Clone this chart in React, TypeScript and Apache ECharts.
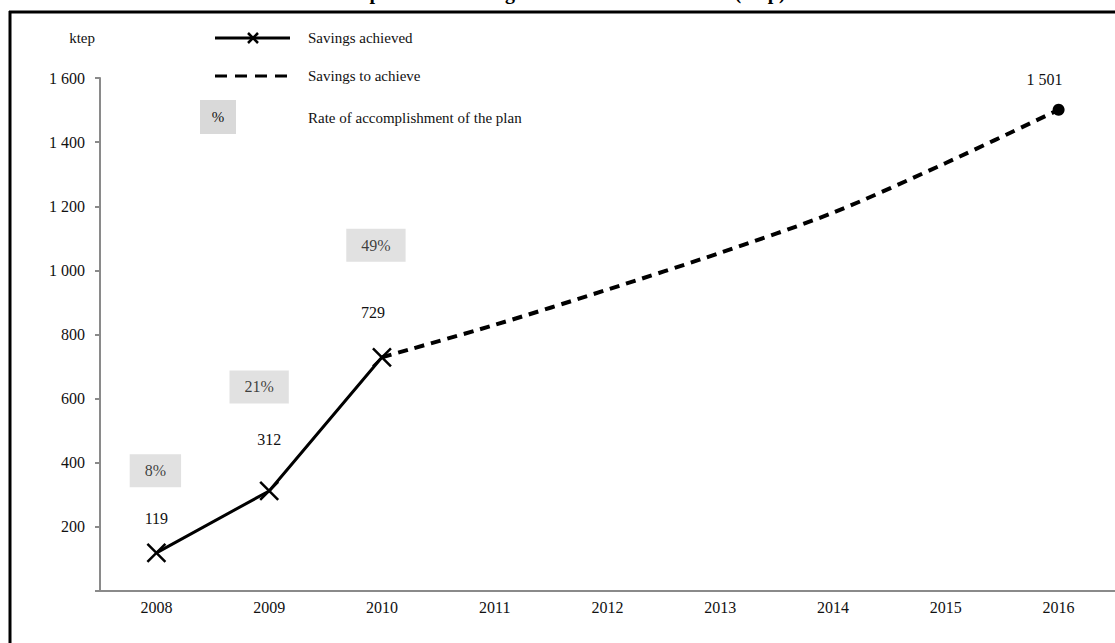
import React, { useEffect, useRef } from "react";
import * as echarts from "echarts";

const years = ["2008", "2009", "2010", "2011", "2012", "2013", "2014", "2015", "2016"];
const achieved = [119, 312, 729, null, null, null, null, null, null];
const toAchieve = [null, null, 729, 830, 940, 1055, 1180, 1335, 1501];
const rates = ["8%", "21%", "49%"];
const yTicks = [0, 1600, 200]; // min, max, interval

const FONT = '"Liberation Serif", "Times New Roman", serif';

// label placement (styling, not data)
const valueLabelOffsets = [[0, -34], [0, -51], [-9, -45]];
const rateLabelOffsets = [[-1, -82], [-10, -104], [-6, -112]];

const fmt = (v: number) =>
  v >= 1000 ? `${Math.floor(v / 1000)} ${String(v % 1000).padStart(3, "0")}` : String(v);

const CROSS = "path://M0 0L20 20M20 0L0 20";

export default function App() {
  const ref = useRef<HTMLDivElement>(null);
  useEffect(() => {
    if (!ref.current) return;
    const chart = echarts.init(ref.current, null, { renderer: "svg" });
    const option: any = {
      animation: false,
      backgroundColor: "#ffffff",
      grid: { left: 100, width: 1028, top: 78, bottom: 52 },
      xAxis: {
        type: "category",
        data: years,
        boundaryGap: true,
        axisLine: { lineStyle: { color: "#8a8a8a", width: 2 } },
        axisTick: { alignWithLabel: true, length: 4, lineStyle: { color: "#666", width: 2 } },
        axisLabel: { color: "#111", fontFamily: FONT, fontSize: 16, margin: 8 },
        splitLine: { show: false },
      },
      yAxis: {
        type: "value",
        min: yTicks[0],
        max: yTicks[1],
        interval: yTicks[2],
        name: "ktep",
        nameLocation: "end",
        nameGap: 40,
        nameTextStyle: {
          color: "#111",
          fontFamily: FONT,
          fontSize: 15,
          align: "right",
          verticalAlign: "middle",
          padding: [0, 5, 0, 0],
        },
        axisLine: { show: true, lineStyle: { color: "#8a8a8a", width: 2 } },
        axisTick: { show: true, length: 5, lineStyle: { color: "#8a8a8a", width: 2 } },
        axisLabel: {
          color: "#111",
          fontFamily: FONT,
          fontSize: 16,
          margin: 15,
          formatter: (v: number) => (v === 0 ? "" : fmt(v)),
        },
        splitLine: { show: false },
      },
      series: [
        {
          name: "Savings to achieve",
          type: "line",
          data: toAchieve.map((v, i) =>
            i === toAchieve.length - 1
              ? {
                  value: v,
                  symbol: "circle",
                  symbolSize: 12,
                  label: {
                    show: true,
                    position: "inside",
                    offset: [-14, -30],
                    formatter: (p: any) => fmt(p.value),
                    color: "#111",
                    fontFamily: FONT,
                    fontSize: 16,
                  },
                }
              : { value: v, symbol: "none" }
          ),
          smooth: 0.3,
          connectNulls: false,
          lineStyle: { color: "#000", width: 4, type: [10, 7] },
          itemStyle: { color: "#000" },
          z: 2,
        },
        {
          name: "Savings achieved",
          type: "line",
          data: achieved.map((v, i) =>
            v == null
              ? v
              : {
                  value: v,
                  label: {
                    show: true,
                    position: "inside",
                    offset: valueLabelOffsets[i],
                    formatter: (p: any) => fmt(p.value),
                    color: "#111",
                    fontFamily: FONT,
                    fontSize: 16,
                  },
                }
          ),
          symbol: CROSS,
          symbolSize: 18,
          showAllSymbol: true,
          lineStyle: { color: "#000", width: 3 },
          itemStyle: { color: "#000", borderColor: "#000", borderWidth: 2.5 },
          z: 3,
        },
        {
          name: "Rate of accomplishment of the plan",
          type: "scatter",
          symbolSize: 0,
          data: rates.map((r, i) => ({
            value: [years[i], achieved[i]],
            label: {
              show: true,
              position: "inside",
              offset: rateLabelOffsets[i],
              formatter: () => r,
              color: "#111",
              fontFamily: FONT,
              fontSize: 16,
              backgroundColor: "#d9d9d9",
              padding: [9, 15, 8, 15],
            },
          })),
          z: 4,
        },
      ],
      graphic: [
        // frame
        { type: "line", shape: { x1: 9, y1: 12, x2: 1115, y2: 12 }, style: { stroke: "#000", lineWidth: 3 } },
        { type: "line", shape: { x1: 10, y1: 11, x2: 10, y2: 643 }, style: { stroke: "#000", lineWidth: 3 } },
        // title (cut off at top, as in the reference)
        {
          type: "text",
          x: 557,
          y: 2,
          style: {
            text: "Comparison of savings achieved and to achieve (ktep)",
            font: `bold 20px ${FONT}`,
            fill: "#000",
            textAlign: "center",
            textVerticalAlign: "bottom",
          },
        },
        // legend
        { type: "line", shape: { x1: 215, y1: 38, x2: 290, y2: 38 }, style: { stroke: "#000", lineWidth: 3 } },
        { type: "line", shape: { x1: 248, y1: 33, x2: 258, y2: 43 }, style: { stroke: "#000", lineWidth: 2.5 } },
        { type: "line", shape: { x1: 258, y1: 33, x2: 248, y2: 43 }, style: { stroke: "#000", lineWidth: 2.5 } },
        {
          type: "text",
          x: 308,
          y: 38,
          style: { text: "Savings achieved", font: `15px ${FONT}`, fill: "#111", textVerticalAlign: "middle" },
        },
        {
          type: "line",
          shape: { x1: 215, y1: 76, x2: 292, y2: 76 },
          style: { stroke: "#000", lineWidth: 3, lineDash: [12, 8] },
        },
        {
          type: "text",
          x: 308,
          y: 76,
          style: { text: "Savings to achieve", font: `15px ${FONT}`, fill: "#111", textVerticalAlign: "middle" },
        },
        { type: "rect", shape: { x: 200, y: 100, width: 36, height: 34 }, style: { fill: "#d9d9d9" } },
        {
          type: "text",
          x: 218,
          y: 117,
          style: { text: "%", font: `15px ${FONT}`, fill: "#111", textAlign: "center", textVerticalAlign: "middle" },
        },
        {
          type: "text",
          x: 308,
          y: 118,
          style: {
            text: "Rate of accomplishment of the plan",
            font: `15px ${FONT}`,
            fill: "#111",
            textVerticalAlign: "middle",
          },
        },
      ],
    };
    chart.setOption(option);
    return () => chart.dispose();
  }, []);
  return (
    <div
      ref={ref}
      style={{ position: "fixed", left: 0, top: 0, width: 1115, height: 643, background: "#fff" }}
    />
  );
}
